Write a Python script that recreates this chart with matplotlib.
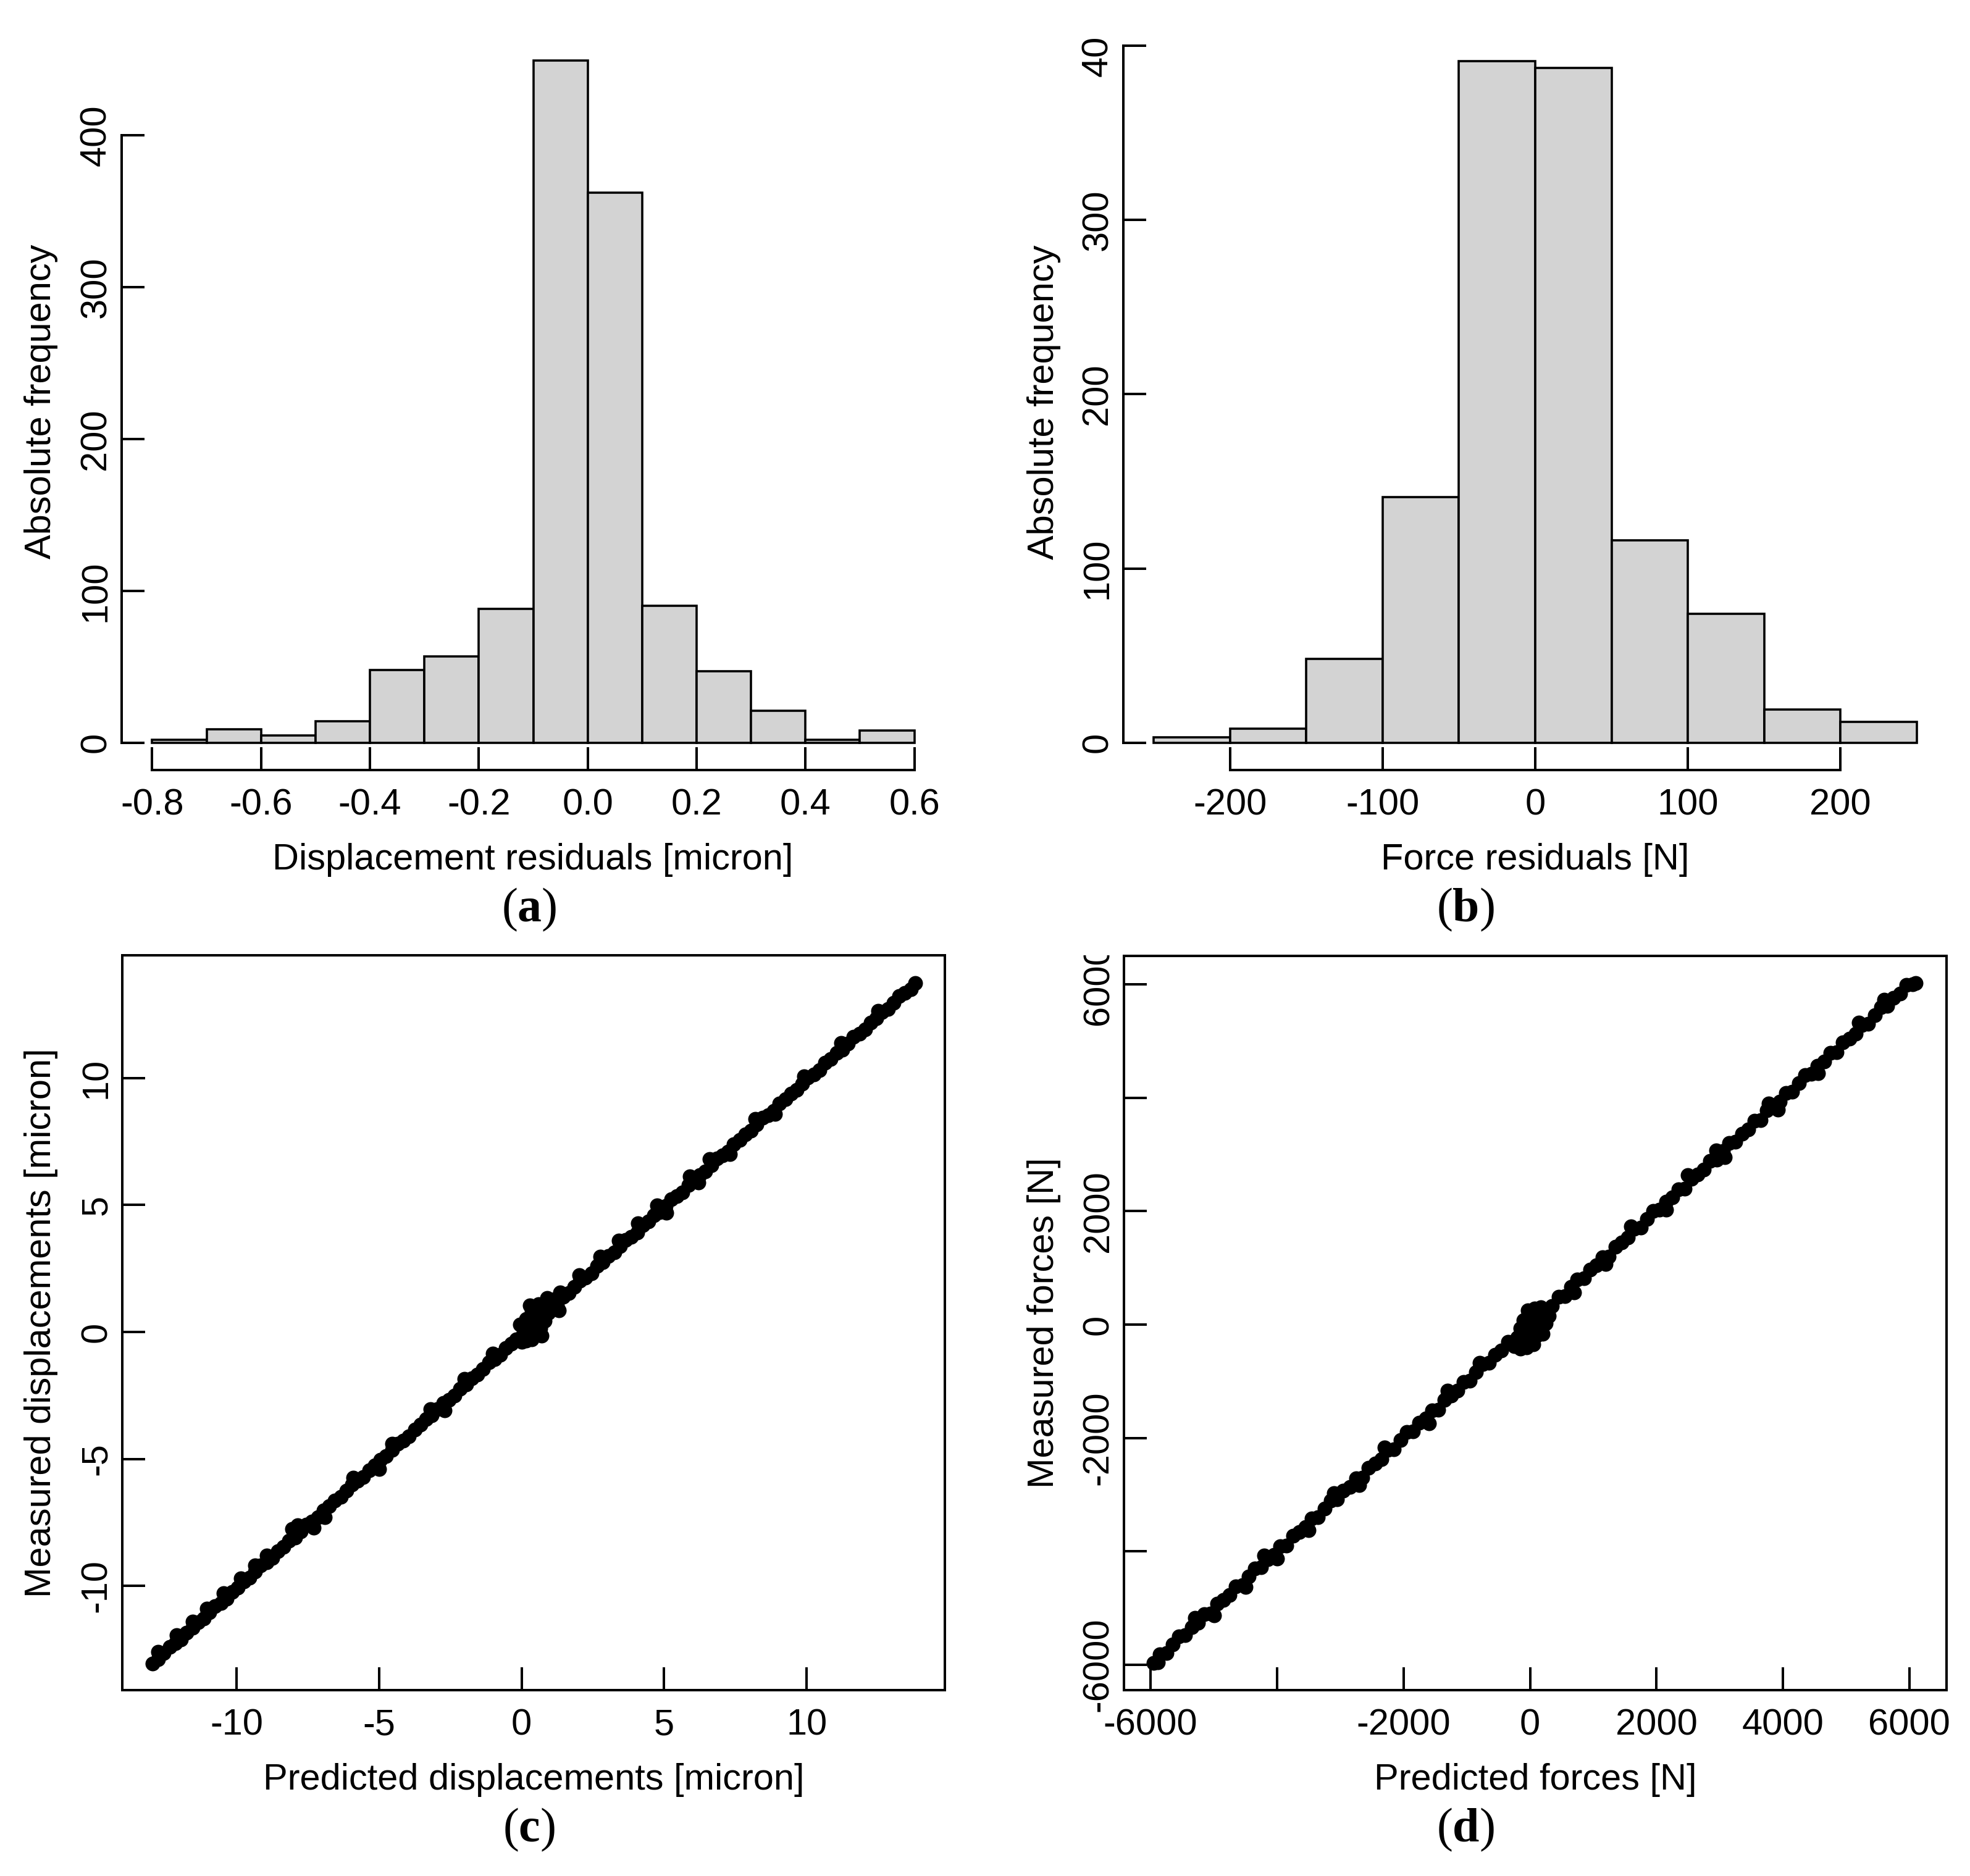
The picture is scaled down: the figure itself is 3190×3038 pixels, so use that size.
"""Residual histograms and predicted-vs-measured scatter plots (four panels)."""

import matplotlib

matplotlib.use("Agg")

import matplotlib.pyplot as plt
import numpy as np
from matplotlib.transforms import Bbox, TransformedBbox

plt.rcParams["font.family"] = ["Liberation Sans", "DejaVu Sans"]
plt.rcParams["axes.unicode_minus"] = False
plt.rcParams["mathtext.fontset"] = "custom"
plt.rcParams["mathtext.rm"] = "Liberation Serif"
plt.rcParams["mathtext.bf"] = "Liberation Serif:bold"

# ---------------------------------------------------------------- data
DISP_EDGES = [-0.8, -0.7, -0.6, -0.5, -0.4, -0.3, -0.2, -0.1, 0.0, 0.1, 0.2, 0.3, 0.4, 0.5, 0.6]
DISP_COUNTS = [2, 9, 5, 14, 48, 57, 88, 449, 362, 90, 47, 21, 2, 8]
DISP_XTICKS = [-0.8, -0.6, -0.4, -0.2, 0.0, 0.2, 0.4, 0.6]
DISP_XLABELS = ["-0.8", "-0.6", "-0.4", "-0.2", "0.0", "0.2", "0.4", "0.6"]

FORCE_EDGES = [-250, -200, -150, -100, -50, 0, 50, 100, 150, 200, 250]
FORCE_COUNTS = [3, 8, 48, 141, 391, 387, 116, 74, 19, 12]
FORCE_XTICKS = [-200, -100, 0, 100, 200]
FREQ_YTICKS = [0, 100, 200, 300, 400]

# panel (c): predicted vs measured displacements [micron]
DISP_PRED = [
    # band below zero
    -12.95, -12.75, -12.55, -12.35, -12.15, -11.95, -11.75, -11.55, -11.35, -11.15,
    -10.95, -10.75, -10.55, -10.35, -10.15, -9.95, -9.75, -9.55, -9.35, -9.15,
    -8.95, -8.75, -8.55, -8.35, -8.15, -7.95, -7.75, -7.55, -7.35, -7.15,
    -6.95, -6.75, -6.55, -6.35, -6.15, -5.95, -5.75, -5.55, -5.35, -5.15,
    -4.95, -4.75, -4.55, -4.35, -4.15, -3.95, -3.75, -3.55, -3.35, -3.15,
    -2.95, -2.75, -2.55, -2.35, -2.15, -1.95, -1.75, -1.55, -1.35, -1.15,
    -0.95, -0.75, -0.55, -0.35,
    # points off the band
    -12.75, -12.10, -11.55, -11.05, -10.45, -9.85, -9.35, -8.95, -8.05, -7.85,
    -5.90, -4.55, -3.20, -2.00, -1.00, -7.30, -6.90, -5.00, -2.70,
    # cluster near zero
    -0.18, 0.00, 0.15, 0.35, 0.05, 0.25, 0.45, 0.70, 0.10, 0.30,
    0.50, 0.65, -0.05, 0.15, 0.40, 0.60, 0.80, 0.35, 0.55, 0.75,
    0.95, 0.30, 0.60, 0.85, 1.05, 1.25, 1.15, 1.30, 0.90,
    # band above zero
    1.45, 1.65, 1.85, 2.05, 2.25, 2.45, 2.65, 2.85, 3.05, 3.25,
    3.45, 3.65, 3.85, 4.05, 4.25, 4.45, 4.65, 4.85, 5.05, 5.25,
    5.45, 5.65, 5.85, 6.05, 6.25, 6.45, 6.65, 6.85, 7.05, 7.25,
    7.45, 7.65, 7.85, 8.05, 8.25, 8.45, 8.65, 8.85, 9.05, 9.25,
    9.45, 9.65, 9.85, 10.05, 10.25, 10.45, 10.65, 10.85, 11.05, 11.25,
    11.45, 11.65, 11.85, 12.05, 12.25, 12.45, 12.65, 12.85, 13.05, 13.25,
    13.45, 13.65, 13.80,
    # points off the band
    1.35, 2.03, 2.76, 3.41, 4.08, 4.76, 5.90, 6.60, 8.20, 9.90,
    11.20, 12.50, 5.08, 7.30, 6.20, 8.90,
]
DISP_MEAS = [
    -13.07, -12.89, -12.65, -12.40, -12.27, -12.11, -11.84, -11.66, -11.43, -11.29,
    -11.05, -10.80, -10.67, -10.51, -10.24, -10.06, -9.83, -9.69, -9.45, -9.20,
    -9.07, -8.91, -8.64, -8.46, -8.23, -8.09, -7.85, -7.60, -7.47, -7.31,
    -7.04, -6.86, -6.63, -6.49, -6.25, -6.00, -5.87, -5.71, -5.44, -5.26,
    -5.03, -4.89, -4.65, -4.40, -4.27, -4.11, -3.84, -3.66, -3.43, -3.29,
    -3.05, -2.80, -2.67, -2.51, -2.24, -2.06, -1.83, -1.69, -1.45, -1.20,
    -1.07, -0.91, -0.64, -0.46,
    -12.60, -11.95, -11.40, -10.90, -10.30, -9.70, -9.20, -8.80, -7.75, -7.62,
    -5.75, -4.40, -3.05, -1.85, -0.85, -7.70, -7.30, -5.40, -3.10,
    -0.30, -0.40, -0.35, -0.30, -0.10, -0.05, -0.10, -0.15, 0.20, 0.25,
    0.20, 0.15, 0.30, 0.50, 0.55, 0.50, 0.45, 0.85, 0.90, 0.80,
    0.75, 1.05, 1.10, 1.15, 1.05, 1.05, 1.30, 0.85, 1.35,
    1.39, 1.53, 1.77, 2.03, 2.15, 2.31, 2.60, 2.76, 2.99, 3.13,
    3.37, 3.63, 3.75, 3.91, 4.20, 4.36, 4.59, 4.73, 4.97, 5.23,
    5.35, 5.51, 5.80, 5.96, 6.19, 6.33, 6.57, 6.83, 6.95, 7.11,
    7.40, 7.56, 7.79, 7.93, 8.17, 8.43, 8.55, 8.71, 9.00, 9.16,
    9.39, 9.53, 9.77, 10.03, 10.15, 10.31, 10.60, 10.76, 10.99, 11.13,
    11.37, 11.63, 11.75, 11.91, 12.20, 12.36, 12.59, 12.73, 12.97, 13.23,
    13.35, 13.51, 13.74,
    1.55, 2.23, 2.96, 3.61, 4.28, 4.98, 6.12, 6.82, 8.40, 10.08,
    11.38, 12.66, 4.70, 7.00, 5.88, 8.58,
]
DISP_TICKS = [-10, -5, 0, 5, 10]

# panel (d): predicted vs measured forces [N]
FORCE_PRED = [
    -5950, -5850, -5750, -5650, -5550, -5450, -5350, -5250, -5150, -5050,
    -4950, -4850, -4750, -4650, -4550, -4450, -4350, -4250, -4150, -4050,
    -3950, -3850, -3750, -3650, -3550, -3450, -3350, -3250, -3150, -3050,
    -2950, -2850, -2750, -2650, -2550, -2450, -2350, -2250, -2150, -2050,
    -1950, -1850, -1750, -1650, -1550, -1450, -1350, -1250, -1150, -1050,
    -950, -850, -750, -650, -550, -450, -350,
    -5880, -5300, -5000, -4500, -4200, -4000, -3500, -3100, -2700, -2300,
    -1600, -1300, -800,
    -250, -150, -50, 50, -200, -100, 0, 100, 200, -150,
    -50, 50, 150, 250, -100, 0, 100, 200, -30, 70,
    170, 250, -60, 120, 300,
    350, 450, 550, 650, 750, 850, 950, 1050, 1150, 1250,
    1350, 1450, 1550, 1650, 1750, 1850, 1950, 2050, 2150, 2250,
    2350, 2450, 2550, 2650, 2750, 2850, 2950, 3050, 3150, 3250,
    3350, 3450, 3550, 3650, 3750, 3850, 3950, 4050, 4150, 4250,
    4350, 4450, 4550, 4650, 4750, 4850, 4950, 5050, 5150, 5250,
    5350, 5450, 5550, 5650, 5750, 5850, 5950, 6050, 6100,
    700, 1200, 1600, 2150, 2500, 2940, 3080, 3770, 3920, 4560,
    5200, 5600,
]
FORCE_MEAS = [
    -5965, -5815, -5795, -5640, -5500, -5480, -5335, -5260, -5110, -5100,
    -4925, -4855, -4770, -4615, -4595, -4440, -4300, -4280, -4135, -4060,
    -3910, -3900, -3725, -3655, -3570, -3415, -3395, -3240, -3100, -3080,
    -2935, -2860, -2710, -2700, -2525, -2455, -2370, -2215, -2195, -2040,
    -1900, -1880, -1735, -1660, -1510, -1500, -1325, -1255, -1170, -1015,
    -995, -840, -700, -680, -535, -460, -310,
    -5960, -5170, -5130, -4630, -4070, -4130, -3630, -2970, -2830, -2170,
    -1740, -1170, -680,
    -380, -420, -400, -350, -230, -250, -220, -200, -160, -70,
    -80, -60, -40, 20, 80, 100, 120, 160, 250, 280,
    300, 200, 0, -130, 150,
    330, 485, 505, 660, 800, 820, 965, 1040, 1190, 1200,
    1375, 1445, 1530, 1685, 1705, 1860, 2000, 2020, 2165, 2240,
    2390, 2400, 2575, 2645, 2730, 2885, 2905, 3060, 3200, 3220,
    3365, 3440, 3590, 3600, 3775, 3845, 3930, 4085, 4105, 4260,
    4400, 4420, 4565, 4640, 4790, 4800, 4975, 5045, 5130, 5285,
    5305, 5460, 5600, 5620, 5765, 5840, 5990, 6000, 6020,
    570, 1070, 1730, 2020, 2630, 3070, 2950, 3900, 3790, 4430,
    5330, 5730,
]
FORCE_TICKS = [-6000, -4000, -2000, 0, 2000, 4000, 6000]
FORCE_XLABELS = ["-6000", "", "-2000", "0", "2000", "4000", "6000"]
FORCE_YLABELS = ["-6000", "", "-2000", "0", "2000", "", "6000"]

assert len(DISP_PRED) == len(DISP_MEAS)
assert len(FORCE_PRED) == len(FORCE_MEAS)

# ---------------------------------------------------------------- layout
FIG_W, FIG_H = 3190, 3038
DPI = 100
PT = 72 / DPI  # points per output pixel

LINE_W = 4.0 * PT
TICK_LEN = 37 * PT
FONT_SIZE = 59.5 * PT
LETTER_SIZE = 78 * PT
MARKER_D = 24 * PT

# plot regions in pixels: left, top, right, bottom
FRAME_A = (197, 54, 1530, 1247)
FRAME_B = (1819, 55, 3153, 1247)
FRAME_C = (198, 1547, 1530, 2737)
FRAME_D = (1820, 1548, 3152, 2737)


def frame_rect(frame):
    left, top, right, bottom = frame
    return [left / FIG_W, 1 - bottom / FIG_H, (right - left) / FIG_W, (bottom - top) / FIG_H]


def fig_text(fig, x, y, text, **kwargs):
    fig.text(x / FIG_W, 1 - y / FIG_H, text, ha="center", va="center", **kwargs)


def style_axes(ax, boxed):
    ax.tick_params(direction="in", length=TICK_LEN, width=LINE_W, labelsize=FONT_SIZE, colors="black")
    ax.tick_params(axis="x", pad=30 * PT)
    ax.tick_params(axis="y", pad=14 * PT)
    for spine in ax.spines.values():
        spine.set_linewidth(LINE_W)
    if not boxed:
        ax.spines["top"].set_visible(False)
        ax.spines["right"].set_visible(False)
    plt.setp(ax.get_yticklabels(), rotation=90, va="center", ha="right")


def clip_tick_label(ax, text, top_px):
    clip = TransformedBbox(Bbox.from_extents(0, 0, 1, 1 - top_px / FIG_H), ax.figure.transFigure)
    for label in ax.get_yticklabels():
        if label.get_text() == text:
            label.set_clip_on(True)
            label.set_clip_box(clip)


def draw_histogram(ax, edges, counts, xticks, xlabels):
    edges = np.asarray(edges, dtype=float)
    ax.bar(edges[:-1], counts, width=np.diff(edges), align="edge",
           color="#D3D3D3", edgecolor="black", linewidth=LINE_W * 0.9)
    span = edges[-1] - edges[0]
    ax.set_xlim(edges[0] - 0.04 * span, edges[-1] + 0.04 * span)
    top = max(counts)
    ax.set_ylim(-0.04 * top, 1.04 * top)
    ax.set_xticks(xticks)
    ax.set_xticklabels(xlabels)
    ax.set_yticks(FREQ_YTICKS)
    ax.set_yticklabels([str(v) for v in FREQ_YTICKS])
    ax.spines["left"].set_bounds(FREQ_YTICKS[0], FREQ_YTICKS[-1])
    ax.spines["bottom"].set_bounds(xticks[0], xticks[-1])
    style_axes(ax, boxed=False)


def draw_scatter(ax, pred, meas, xlim, ylim, ticks, xlabels, ylabels):
    ax.scatter(pred, meas, s=MARKER_D ** 2, color="black", linewidths=0)
    ax.set_xlim(*xlim)
    ax.set_ylim(*ylim)
    ax.set_xticks(ticks)
    ax.set_xticklabels(xlabels)
    ax.set_yticks(ticks)
    ax.set_yticklabels(ylabels)
    style_axes(ax, boxed=True)


def panel_letter(fig, x, y, letter):
    fig_text(fig, x, y, "(" + r"$\mathbf{" + letter + "}$" + ")",
             family="Liberation Serif", fontsize=LETTER_SIZE)


def main():
    fig = plt.figure(figsize=(FIG_W / DPI, FIG_H / DPI), dpi=DPI, facecolor="white")

    ax_a = fig.add_axes(frame_rect(FRAME_A))
    draw_histogram(ax_a, DISP_EDGES, DISP_COUNTS, DISP_XTICKS, DISP_XLABELS)

    ax_b = fig.add_axes(frame_rect(FRAME_B))
    draw_histogram(ax_b, FORCE_EDGES, FORCE_COUNTS, FORCE_XTICKS, [str(v) for v in FORCE_XTICKS])
    clip_tick_label(ax_b, "400", 59)

    ax_c = fig.add_axes(frame_rect(FRAME_C))
    draw_scatter(ax_c, DISP_PRED, DISP_MEAS, (-14.01, 14.85), (-14.11, 14.84),
                 DISP_TICKS, [str(v) for v in DISP_TICKS], [str(v) for v in DISP_TICKS])

    ax_d = fig.add_axes(frame_rect(FRAME_D))
    draw_scatter(ax_d, FORCE_PRED, FORCE_MEAS, (-6421, 6587), (-6447, 6501),
                 FORCE_TICKS, FORCE_XLABELS, FORCE_YLABELS)
    clip_tick_label(ax_d, "6000", 1547)

    # axis titles
    fig_text(fig, 67, 650, "Absolute frequency", rotation=90, fontsize=FONT_SIZE)
    fig_text(fig, 1690, 651, "Absolute frequency", rotation=90, fontsize=FONT_SIZE)
    fig_text(fig, 863, 1392, "Displacement residuals [micron]", fontsize=FONT_SIZE)
    fig_text(fig, 2486, 1392, "Force residuals [N]", fontsize=FONT_SIZE)
    fig_text(fig, 67, 2142, "Measured displacements [micron]", rotation=90, fontsize=FONT_SIZE)
    fig_text(fig, 1690, 2142, "Measured forces [N]", rotation=90, fontsize=FONT_SIZE)
    fig_text(fig, 864, 2882, "Predicted displacements [micron]", fontsize=FONT_SIZE)
    fig_text(fig, 2486, 2882, "Predicted forces [N]", fontsize=FONT_SIZE)

    panel_letter(fig, 857, 1473, "a")
    panel_letter(fig, 2373, 1473, "b")
    panel_letter(fig, 857, 2963, "c")
    panel_letter(fig, 2373, 2963, "d")

    fig.savefig("out.png", dpi=DPI, facecolor="white")
    plt.close(fig)


if __name__ == "__main__":
    main()
